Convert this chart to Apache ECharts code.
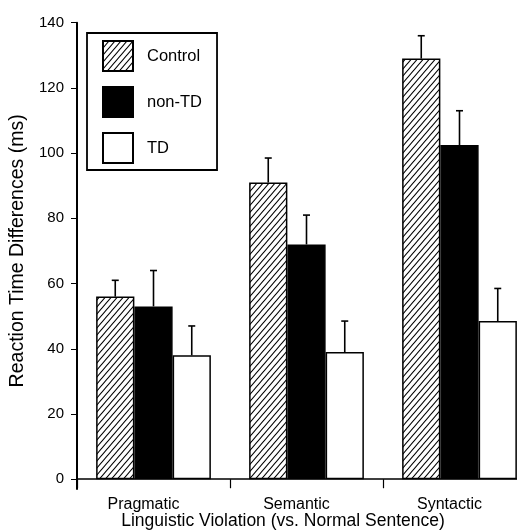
<!DOCTYPE html>
<html>
<head>
<meta charset="utf-8">
<script src="https://cdn.jsdelivr.net/npm/echarts@6/dist/echarts.min.js"></script>
<style>html,body{margin:0;padding:0;background:#fff}#c{width:517px;height:531px}</style>
</head>
<body>
<div id="c"></div>
<script>
const categories = ['Pragmatic', 'Semantic', 'Syntactic'];
const seriesNames = ['Control', 'non-TD', 'TD'];
const controlValues = [56, 91, 129];
const nonTDValues = [53, 72, 102.5];
const tdValues = [38, 39, 48.5];
const controlErrors = [5, 7.5, 7];
const nonTDErrors = [11, 9, 10.5];
const tdErrors = [9, 9.5, 10];
const yTicks = [0, 20, 40, 60, 80, 100, 120, 140];
const xTitle = 'Linguistic Violation (vs. Normal Sentence)';
const yTitle = 'Reaction Time Differences (ms)';

function hatch() {
  const w = 6, h = 7;
  const c = document.createElement('canvas');
  c.width = w; c.height = h;
  const g = c.getContext('2d');
  g.fillStyle = '#fff'; g.fillRect(0, 0, w, h);
  g.strokeStyle = '#000'; g.lineWidth = 1.1;
  const seg = (dx, dy) => { g.beginPath(); g.moveTo(dx, h + dy); g.lineTo(w + dx, dy); g.stroke(); };
  seg(0, 0); seg(-w, -h); seg(w, h); seg(-w, 0); seg(w, 0); seg(0, -h); seg(0, h);
  return c;
}

const FONT = 'Liberation Sans, Arial, Helvetica, sans-serif';
const chart = echarts.init(document.getElementById('c'), null, {renderer: 'canvas'});
const barGapPct = 0.25;
const valueSets = [controlValues, nonTDValues, tdValues];
const errorSets = [controlErrors, nonTDErrors, tdErrors];
const fills = [{image: hatch(), repeat: 'repeat'}, '#000', '#fff'];

const series = [];
seriesNames.forEach((name, i) => {
  series.push({
    name, type: 'bar', data: valueSets[i], barGap: 0, barCategoryGap: '25%',
    itemStyle: {color: fills[i], borderColor: '#000', borderWidth: 1.5},
    emphasis: {disabled: true}, animation: false
  });
});
seriesNames.forEach((name, i) => {
  series.push({
    type: 'custom', silent: true, animation: false, z: 5,
    data: categories.map((c, k) => [k, valueSets[i][k], errorSets[i][k]]),
    renderItem(params, api) {
      const ci = api.value(0), v = api.value(1), e = api.value(2);
      const base = api.coord([ci, v]);
      const top = api.coord([ci, v + e]);
      const catW = api.size([1, 0])[0];
      const bw = catW * (1 - barGapPct) / 3;
      const x = base[0] + (i - 1) * bw;
      const st = {stroke: '#000', lineWidth: 1.6};
      return {type: 'group', children: [
        {type: 'line', shape: {x1: x, y1: base[1], x2: x, y2: top[1]}, style: st},
        {type: 'line', shape: {x1: x - 3.5, y1: top[1], x2: x + 3.5, y2: top[1]}, style: st}
      ]};
    }
  });
});

chart.setOption({
  backgroundColor: '#fff',
  animation: false,
  textStyle: {fontFamily: FONT, color: '#000'},
  title: {
    text: xTitle, left: 283, top: 512, textAlign: 'center', padding: 0,
    textStyle: {fontFamily: FONT, fontSize: 17.5, fontWeight: 'normal', color: '#000'}
  },
  grid: {left: 77, top: 22.7, bottom: 42, right: -19, containLabel: false, outerBoundsMode: 'none'},
  legend: {
    data: seriesNames, orient: 'vertical', left: 87, top: 33,
    padding: [7, 15, 6, 15], itemGap: 14, itemWidth: 30, itemHeight: 30,
    borderColor: '#000', borderWidth: 1.8, backgroundColor: '#fff',
    icon: 'rect', selectedMode: false,
    textStyle: {fontFamily: FONT, fontSize: 16.5, color: '#000', padding: [0, 0, 0, 9]}
  },
  xAxis: {
    type: 'category', data: categories,
    axisLine: {onZero: true, lineStyle: {color: '#000', width: 1.5}},
    axisTick: {show: true, length: 9, lineStyle: {color: '#000', width: 1.2}},
    axisLabel: {fontFamily: FONT, fontSize: 16, color: '#000', margin: 8, padding: [0, 20, 0, 0]}
  },
  yAxis: {
    type: 'value', min: -3, max: 140,
    splitLine: {show: false},
    axisLine: {show: true, lineStyle: {color: '#000', width: 2}},
    axisTick: {show: true, length: 6, customValues: yTicks, lineStyle: {color: '#000', width: 1}},
    axisLabel: {fontFamily: FONT, fontSize: 15, color: '#000', margin: 13, customValues: yTicks},
    name: yTitle, nameLocation: 'middle', nameGap: 49,
    nameTextStyle: {fontFamily: FONT, fontSize: 19.5, color: '#000', padding: [0, 0, 0, 10]}
  },
  series
});
</script>
</body>
</html>
